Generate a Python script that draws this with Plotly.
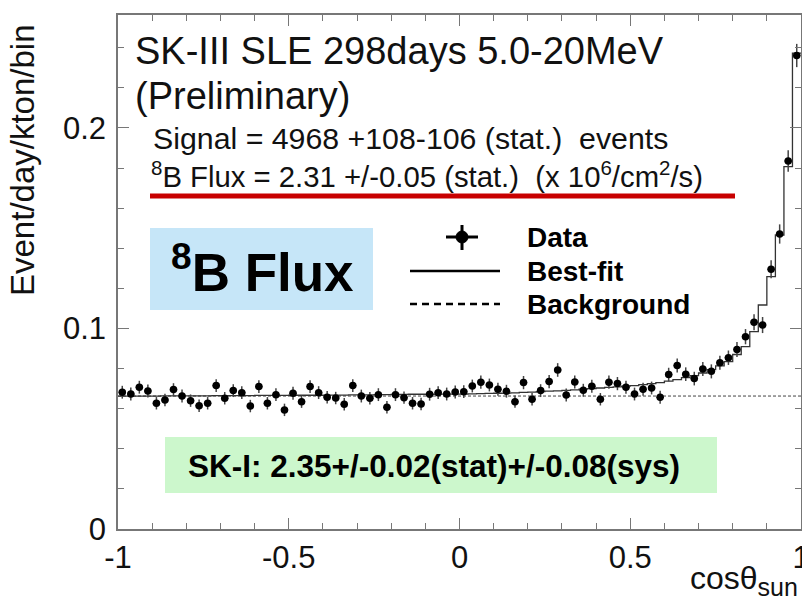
import plotly.graph_objects as go

# ---------------- data ----------------
N_BINS = 80
X_MIN, X_MAX = -1.0, 1.0
BIN_W = (X_MAX - X_MIN) / N_BINS
bin_centers = [X_MIN + BIN_W * (i + 0.5) for i in range(N_BINS)]
bin_edges = [X_MIN + BIN_W * i for i in range(N_BINS + 1)]

data_vals = [
    0.0682, 0.0673, 0.0707, 0.0688, 0.0627, 0.0643, 0.0695, 0.0663, 0.0640, 0.0615,
    0.0627, 0.0715, 0.0652, 0.0690, 0.0680, 0.0613, 0.0710, 0.0627, 0.0670, 0.0594,
    0.0677, 0.0635, 0.0710, 0.0680, 0.0657, 0.0653, 0.0622, 0.0715, 0.0663, 0.0652,
    0.0670, 0.0607, 0.0670, 0.0655, 0.0627, 0.0623, 0.0672, 0.0680, 0.0673, 0.0683,
    0.0685, 0.0713, 0.0732, 0.0718, 0.0697, 0.0687, 0.0635, 0.0730, 0.0647, 0.0690,
    0.0735, 0.0793, 0.0668, 0.0733, 0.0692, 0.0712, 0.0647, 0.0732, 0.0725, 0.0707,
    0.0673, 0.0697, 0.0703, 0.0657, 0.0770, 0.0815, 0.0772, 0.0750, 0.0798, 0.0786,
    0.0829, 0.0854, 0.0895, 0.0959, 0.1031, 0.1017, 0.1295, 0.1471, 0.1835, 0.2361,
]

data_err = [
    0.0032, 0.0032, 0.0032, 0.0032, 0.0031, 0.0031, 0.0032, 0.0032, 0.0031, 0.0031,
    0.0031, 0.0032, 0.0031, 0.0032, 0.0032, 0.0031, 0.0032, 0.0031, 0.0032, 0.0031,
    0.0032, 0.0031, 0.0032, 0.0032, 0.0031, 0.0031, 0.0031, 0.0032, 0.0032, 0.0031,
    0.0032, 0.0031, 0.0032, 0.0031, 0.0031, 0.0031, 0.0032, 0.0032, 0.0032, 0.0032,
    0.0032, 0.0032, 0.0033, 0.0032, 0.0032, 0.0032, 0.0031, 0.0033, 0.0031, 0.0032,
    0.0033, 0.0034, 0.0032, 0.0033, 0.0032, 0.0032, 0.0031, 0.0033, 0.0033, 0.0032,
    0.0032, 0.0032, 0.0032, 0.0032, 0.0034, 0.0035, 0.0034, 0.0034, 0.0035, 0.0035,
    0.0035, 0.0036, 0.0037, 0.0038, 0.0040, 0.0040, 0.0045, 0.0048, 0.0054, 0.0058,
]

best_fit = [
    0.0663, 0.0663, 0.0663, 0.0663, 0.0663, 0.0664, 0.0664, 0.0664, 0.0664, 0.0664,
    0.0664, 0.0665, 0.0665, 0.0665, 0.0665, 0.0665, 0.0666, 0.0666, 0.0666, 0.0666,
    0.0667, 0.0667, 0.0667, 0.0667, 0.0668, 0.0668, 0.0668, 0.0669, 0.0669, 0.0669,
    0.0670, 0.0670, 0.0671, 0.0671, 0.0672, 0.0672, 0.0672, 0.0673, 0.0673, 0.0673,
    0.0673, 0.0674, 0.0675, 0.0676, 0.0677, 0.0678, 0.0679, 0.0681, 0.0683, 0.0685,
    0.0687, 0.0689, 0.0691, 0.0694, 0.0697, 0.0700, 0.0703, 0.0706, 0.0709, 0.0712,
    0.0715, 0.0720, 0.0725, 0.0730, 0.0737, 0.0745, 0.0755, 0.0765, 0.0778, 0.0795,
    0.0813, 0.0835, 0.0870, 0.0909, 0.0984, 0.1117, 0.1258, 0.1466, 0.1807, 0.2373,
]

background_level = 0.0663

x_tickvals = [-1, -0.5, 0, 0.5, 1]
x_ticktext = ["-1", "-0.5", "0", "0.5", "1"]
y_tickvals = [0, 0.1, 0.2]
y_ticktext = ["0", "0.1", "0.2"]
Y_MAX = 0.2563

# ---------------- layout helpers (pixel -> paper) ----------------
W, H = 802, 601
ML, MR, MT, MB = 118, 1, 15, 72
PW, PH = W - ML - MR, H - MT - MB


def PX(p):
    return (p - ML) / PW


def PY(p):
    return (H - MB - p) / PH


FONT = "Liberation Sans, Arial, Helvetica, sans-serif"

fig = go.Figure()

# background (dashed)
fig.add_trace(go.Scatter(
    x=[X_MIN, X_MAX], y=[background_level, background_level], mode="lines",
    line=dict(color="#444444", width=1, dash="3px,2px"), hoverinfo="skip", showlegend=False))

# best-fit histogram (steps)
fig.add_trace(go.Scatter(
    x=bin_edges, y=best_fit + [best_fit[-1]], mode="lines", line_shape="hv",
    line=dict(color="#333333", width=1.3), hoverinfo="skip", showlegend=False))

# data points
fig.add_trace(go.Scatter(
    x=bin_centers, y=data_vals, mode="markers",
    marker=dict(color="black", size=7.5, symbol="circle"),
    error_y=dict(type="data", array=data_err, color="#444444", thickness=1.5, width=0),
    error_x=dict(type="constant", value=0.011, color="#444444", thickness=1.5, width=0),
    showlegend=False))

shapes = []
annotations = []

# red underline
shapes.append(dict(type="line", xref="paper", yref="paper",
                   x0=PX(150), x1=PX(735), y0=PY(196), y1=PY(196),
                   line=dict(color="#c80000", width=5)))
# blue box
shapes.append(dict(type="rect", xref="paper", yref="paper",
                   x0=PX(150), x1=PX(373), y0=PY(310), y1=PY(228),
                   fillcolor="#c6e6f8", line=dict(width=0), layer="below"))
# green box
shapes.append(dict(type="rect", xref="paper", yref="paper",
                   x0=PX(165), x1=PX(717), y0=PY(493), y1=PY(437),
                   fillcolor="#ccf7cc", line=dict(width=0), layer="below"))

# legend samples
shapes.append(dict(type="line", xref="paper", yref="paper",
                   x0=PX(446), x1=PX(478), y0=PY(237), y1=PY(237),
                   line=dict(color="black", width=3)))
shapes.append(dict(type="line", xref="paper", yref="paper",
                   x0=PX(462), x1=PX(462), y0=PY(225), y1=PY(250),
                   line=dict(color="black", width=3)))
shapes.append(dict(type="circle", xref="paper", yref="paper",
                   x0=PX(456), x1=PX(468), y0=PY(243), y1=PY(231),
                   fillcolor="black", line=dict(color="black", width=1)))
shapes.append(dict(type="line", xref="paper", yref="paper",
                   x0=PX(410), x1=PX(500), y0=PY(271), y1=PY(271),
                   line=dict(color="black", width=2.5)))
shapes.append(dict(type="line", xref="paper", yref="paper",
                   x0=PX(410), x1=PX(500), y0=PY(304), y1=PY(304),
                   line=dict(color="black", width=2.5, dash="7px,5px")))


def text(x, y, s, size, bold=False, xanchor="left", color="#111111", angle=0):
    annotations.append(dict(
        xref="paper", yref="paper", x=PX(x), y=PY(y), text=(f"<b>{s}</b>" if bold else s),
        showarrow=False, xanchor=xanchor, yanchor="middle", textangle=angle,
        font=dict(family=FONT, size=size, color=color)))


text(133, 51, "SK-III SLE 298days 5.0-20MeV", 38)
text(133, 96, "(Preliminary)", 38)
text(151, 138, "Signal = 4968 +108-106 (stat.)  events", 30.3)
text(149, 174, "<sup>8</sup>B Flux = 2.31 +/-0.05 (stat.)  (x 10<sup>6</sup>/cm<sup>2</sup>/s)", 29.3)
text(262, 268, "<sup>8</sup>B Flux", 53, bold=True, xanchor="center", color="black")
text(525, 237, "Data", 28, bold=True, color="black")
text(525, 271, "Best-fit", 28, bold=True, color="black")
text(525, 304, "Background", 28, bold=True, color="black")
text(434, 466, "SK-I: 2.35+/-0.02(stat)+/-0.08(sys)", 31.5, bold=True, xanchor="center", color="black")
text(22, 160, "Event/day/kton/bin", 33, xanchor="center", angle=-90)
text(800, 580, "cosθ<sub><span style='font-size:25px'>sun</span></sub>", 32, xanchor="right")

axis_common = dict(
    showline=True, mirror="allticks", linecolor="#777777", linewidth=1.5,
    ticks="inside", ticklen=11, tickcolor="#777777", tickwidth=1.2,
    showgrid=False, zeroline=False, ticklabeloverflow="allow", automargin=False,
    tickfont=dict(family=FONT, size=31, color="#111111"),
)

fig.update_xaxes(range=[X_MIN, X_MAX], tickmode="array", tickvals=x_tickvals, ticktext=x_ticktext,
                 minor=dict(ticks="inside", dtick=0.1, tick0=0, ticklen=6, tickcolor="#777777", showgrid=False),
                 **axis_common)
fig.update_yaxes(range=[0, Y_MAX], tickmode="array", tickvals=y_tickvals, ticktext=y_ticktext,
                 minor=dict(ticks="inside", dtick=0.02, tick0=0, ticklen=6, tickcolor="#777777", showgrid=False),
                 ticklabelstandoff=4, **axis_common)

fig.update_layout(
    width=W, height=H, margin=dict(l=ML, r=MR, t=MT, b=MB, autoexpand=False),
    paper_bgcolor="white", plot_bgcolor="white",
    shapes=shapes, annotations=annotations, showlegend=False,
)

fig.write_html("out.html")
